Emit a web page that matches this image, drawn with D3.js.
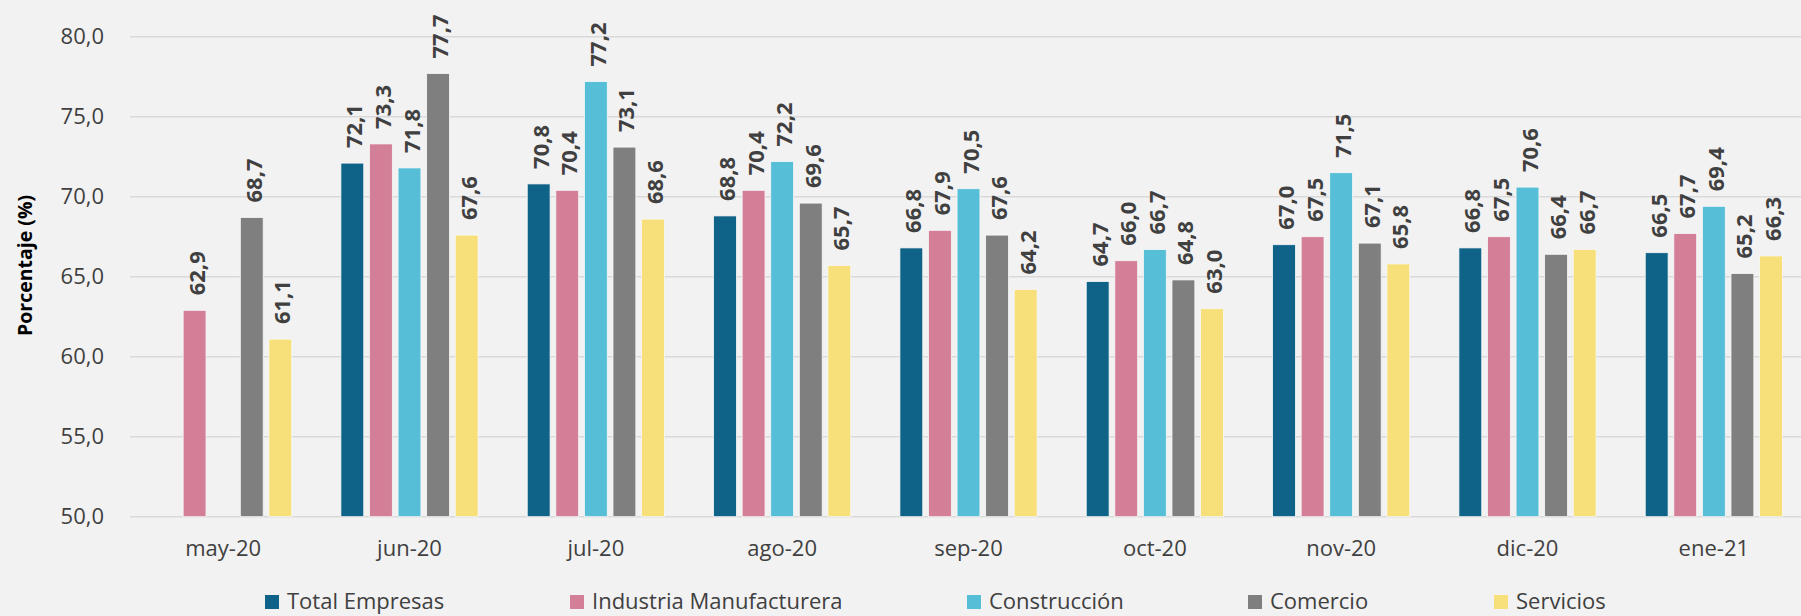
<!DOCTYPE html>
<html><head><meta charset="utf-8">
<script src="https://cdn.jsdelivr.net/npm/d3@7"></script>
<style>
html,body{margin:0;padding:0;background:#F2F2F2;overflow:hidden}
text{font-family:"Open Sans","Noto Sans",sans-serif;fill:#404040}
</style></head><body>
<svg id="c" width="1801" height="616"></svg>
<script>
const categories = ["may-20","jun-20","jul-20","ago-20","sep-20","oct-20","nov-20","dic-20","ene-21"];
const seriesNames = ["Total Empresas","Industria Manufacturera","Construcción","Comercio","Servicios"];
const totalEmpresas = [null,72.1,70.8,68.8,66.8,64.7,67.0,66.8,66.5];
const industria = [62.9,73.3,70.4,70.4,67.9,66.0,67.5,67.5,67.7];
const construccion = [null,71.8,77.2,72.2,70.5,66.7,71.5,70.6,69.4];
const comercio = [68.7,77.7,73.1,69.6,67.6,64.8,67.1,66.4,65.2];
const servicios = [61.1,67.6,68.6,65.7,64.2,63.0,65.8,66.7,66.3];
const yTicks = [50,55,60,65,70,75,80];
const colors = ["#0F6288","#D47F98","#56BED6","#7F7F7F","#F7E07A"];

(function(){
const series = [totalEmpresas, industria, construccion, comercio, servicios];
const svg = d3.select("#c");
const pL = 130, pR = 1807, pT = 36.7, pB = 516.7;
const x0 = d3.scaleBand().domain(categories).range([pL, pR]).paddingInner(0).paddingOuter(0);
const x1 = d3.scaleBand().domain(seriesNames).range([-68.6, 68.6]).paddingInner(0.2).paddingOuter(0);
const y = d3.scaleLinear().domain([50, 80]).range([pB, pT]);
const fmt = v => d3.format(".1f")(v).replace(".", ",");

svg.append("g").selectAll("line").data(yTicks).join("line")
  .attr("x1", pL).attr("x2", 1801)
  .attr("y1", d => y(d)).attr("y2", d => y(d))
  .attr("stroke", "#D9D9D9").attr("stroke-width", 1.5);

const yAxis = d3.axisLeft(y).tickValues(yTicks).tickFormat(fmt).tickSize(0).tickPadding(0);
const yg = svg.append("g").attr("transform", `translate(104,0)`).call(yAxis);
yg.select(".domain").remove();
yg.selectAll("text").attr("font-size", 22).attr("fill", "#404040").style("font-family", '"Open Sans",sans-serif');

svg.append("text").attr("transform", `translate(24,265.5) rotate(-90)`)
  .attr("text-anchor", "middle").attr("dominant-baseline", "central")
  .attr("font-size", 19.5).attr("font-weight", "bold").style("fill","#000").text("Porcentaje (%)");

const xAxis = d3.axisBottom(x0).tickSize(0).tickPadding(0);
const xg = svg.append("g").attr("transform", `translate(0,${pB + 24})`).call(xAxis);
xg.select(".domain").remove();
xg.selectAll("text").attr("font-size", 22).attr("fill", "#404040").style("font-family", '"Open Sans",sans-serif');

const data = [];
categories.forEach((c, i) => series.forEach((s, j) => {
  if (s[i] != null) data.push({c, s: seriesNames[j], v: s[i], j});
}));
const cx = d => x0(d.c) + x0.bandwidth() / 2 + x1(d.s);
svg.append("g").selectAll("rect").data(data).join("rect")
  .attr("x", cx).attr("width", x1.bandwidth())
  .attr("y", d => y(d.v)).attr("height", d => y(50) - y(d.v))
  .attr("fill", d => colors[d.j]).attr("stroke", "#F7F7F7").attr("stroke-width", 0.8);

svg.append("g").selectAll("text").data(data).join("text")
  .attr("transform", d => `translate(${cx(d) + x1.bandwidth() / 2 + 1},${y(d.v) - 15}) rotate(-90)`)
  .attr("dominant-baseline", "central").attr("text-anchor", "start")
  .attr("font-size", 22).attr("font-weight", "bold").text(d => fmt(d.v));

const legX = [265, 570, 967, 1248, 1494];
const lg = svg.append("g").selectAll("g").data(seriesNames).join("g")
  .attr("transform", (d, i) => `translate(${legX[i]},595)`);
lg.append("rect").attr("width", 14).attr("height", 14).attr("fill", (d, i) => colors[i]);
lg.append("text").attr("x", 22).attr("y", 14).attr("font-size", 22).text(d => d);
})();
</script>
</body></html>
